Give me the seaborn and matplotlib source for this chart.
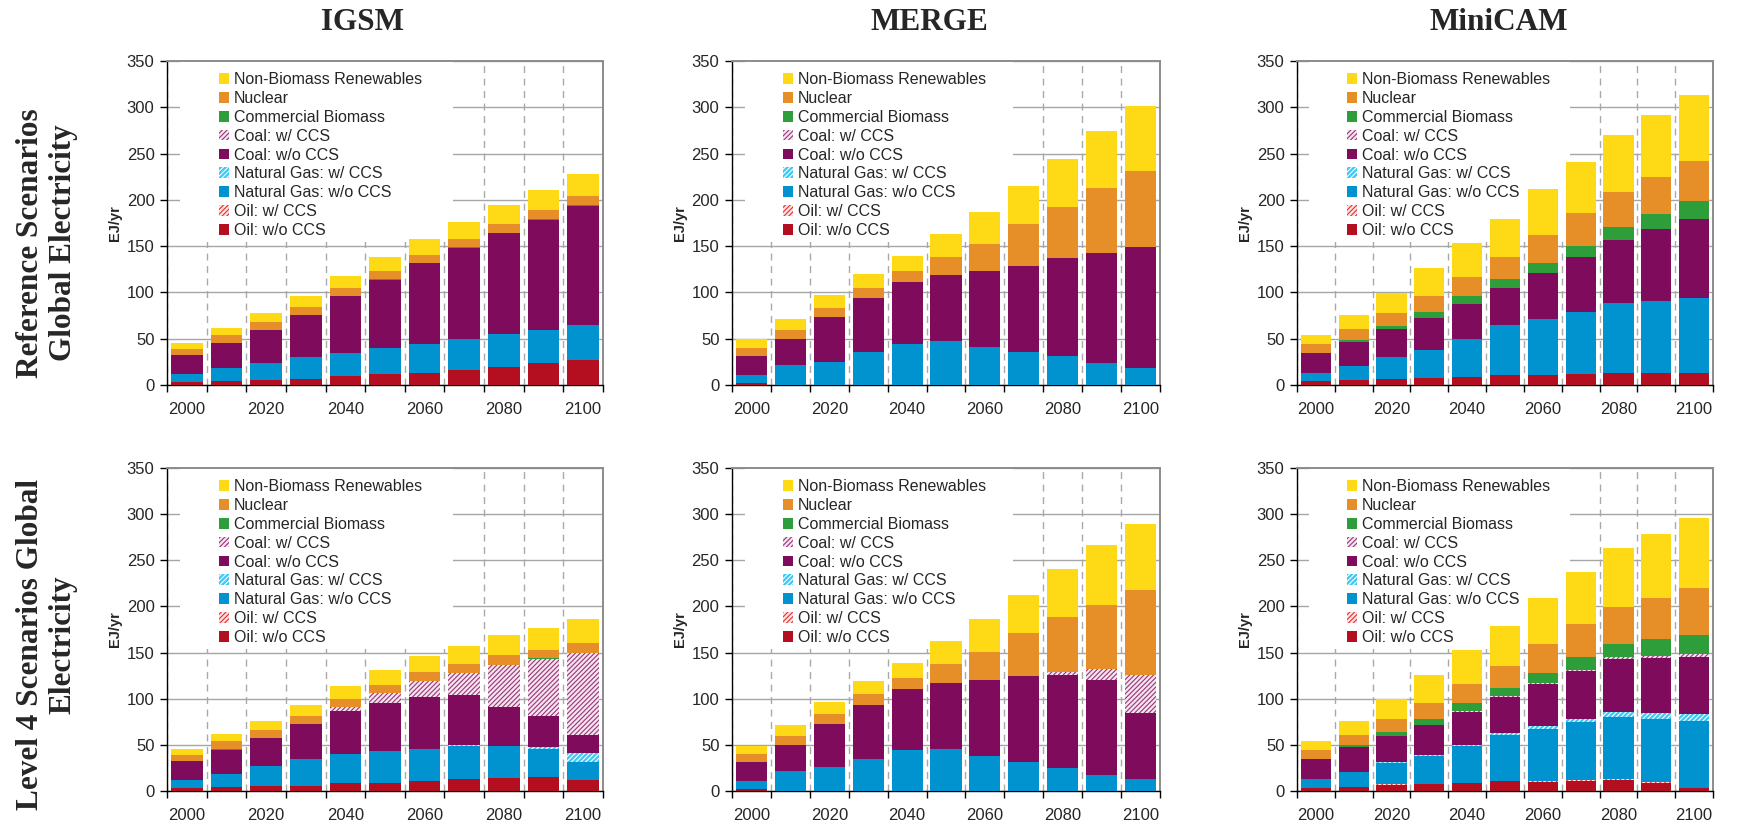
import seaborn as sns
import matplotlib.pyplot as plt
import pandas as pd
import numpy as np
from matplotlib.patches import Patch, Rectangle

years = [2000, 2010, 2020, 2030, 2040, 2050, 2060, 2070, 2080, 2090, 2100]
year_labels = ["2000", "2020", "2040", "2060", "2080", "2100"]

# stacking order, bottom to top
sources = ["Oil: w/o CCS", "Oil: w/ CCS", "Natural Gas: w/o CCS", "Natural Gas: w/ CCS",
           "Coal: w/o CCS", "Coal: w/ CCS", "Commercial Biomass", "Nuclear",
           "Non-Biomass Renewables"]

models = ["IGSM", "MERGE", "MiniCAM"]
row_titles = ["Reference Scenarios\nGlobal Electricity",
              "Level 4 Scenarios Global\nElectricity"]

zeros = [0] * 11

igsm_ref = {
    "Oil: w/o CCS": [3.6, 4.3, 5.8, 6.8, 10, 12.2, 13.3, 16.5, 19.4, 23.7, 27],
    "Oil: w/ CCS": zeros,
    "Natural Gas: w/o CCS": [8.6, 14, 18.3, 23.8, 24.5, 28.1, 31.3, 33.1, 36, 35.7, 37.7],
    "Natural Gas: w/ CCS": zeros,
    "Coal: w/o CCS": [20.5, 26.7, 35.3, 45.3, 61.5, 73.4, 87.1, 98.2, 108.6, 118.6, 128.8],
    "Coal: w/ CCS": zeros,
    "Commercial Biomass": [0, 0.7, 0, 0, 0, 1, 0, 1.2, 0, 1, 1.1],
    "Nuclear": [6.1, 8.3, 8.6, 8.3, 8.7, 8.7, 8.6, 8.6, 9.7, 9.8, 9.4],
    "Non-Biomass Renewables": [6.5, 7.9, 9.7, 11.8, 12.9, 14.7, 17.3, 18.3, 20.5, 21.6, 23.7],
}

merge_ref = {
    "Oil: w/o CCS": [2.5, 0, 0, 0, 0, 0, 0, 0, 0, 0, 0],
    "Oil: w/ CCS": zeros,
    "Natural Gas: w/o CCS": [8.3, 21.7, 25.3, 35.8, 44.4, 47.7, 41.2, 35.8, 31.4, 23.8, 18.4],
    "Natural Gas: w/ CCS": zeros,
    "Coal: w/o CCS": [20.6, 28.1, 48.4, 58.5, 67.2, 71.5, 82.3, 93.1, 106.2, 119.2, 131.1],
    "Coal: w/ CCS": zeros,
    "Commercial Biomass": zeros,
    "Nuclear": [8.7, 9.8, 9.7, 10.8, 11.9, 19.5, 29.3, 45.5, 55.2, 69.3, 81.3],
    "Non-Biomass Renewables": [9.4, 11.9, 14.1, 15.2, 16.3, 24.9, 34.6, 40.1, 51, 61.8, 70.4],
}

minicam_ref = {
    "Oil: w/o CCS": [4.7, 5.8, 6.9, 7.9, 9, 11.2, 11.2, 12.3, 13.4, 13.4, 13.4],
    "Oil: w/ CCS": zeros,
    "Natural Gas: w/o CCS": [8.7, 15.1, 23.8, 30.4, 41.2, 53.1, 59.6, 66.1, 74.7, 76.9, 80.1],
    "Natural Gas: w/ CCS": zeros,
    "Coal: w/o CCS": [21.6, 26, 29.3, 34.6, 36.8, 40.1, 49.8, 59.6, 68.3, 78, 85.6],
    "Coal: w/ CCS": zeros,
    "Commercial Biomass": [0, 2.2, 3.2, 5.5, 8.7, 9.7, 10.9, 11.8, 14, 16.2, 19.5],
    "Nuclear": [9.8, 10.9, 14.1, 17.3, 20.6, 23.9, 30.3, 35.8, 38, 40.1, 43.3],
    "Non-Biomass Renewables": [9.7, 15.1, 21.7, 30.3, 36.8, 41.8, 49.8, 54.9, 61.7, 66.8, 71.6],
}

igsm_l4 = {
    "Oil: w/o CCS": [3.6, 4.7, 5.8, 5.8, 9, 9, 11.2, 13.4, 14.4, 15.5, 12.3],
    "Oil: w/ CCS": zeros,
    "Natural Gas: w/o CCS": [8.7, 14.1, 21.6, 28.8, 31.4, 34.7, 34.6, 35.6, 34.2, 30.3, 19.1],
    "Natural Gas: w/ CCS": [0, 0, 0, 0, 0, 0, 0, 0.8, 0.5, 1.8, 9.7],
    "Coal: w/o CCS": [20.2, 25.9, 30.3, 38.3, 46.6, 51.9, 56.3, 54.1, 42.2, 34, 19.9],
    "Coal: w/ CCS": [0, 0, 0, 0, 4.3, 10.9, 17.4, 23.9, 45.1, 61.3, 88.4],
    "Commercial Biomass": [0, 1.1, 0, 0, 0, 0, 0, 0, 0, 0.7, 0],
    "Nuclear": [6.5, 8.3, 8.7, 8.7, 8.7, 8.6, 9.7, 10.1, 10.8, 9.1, 10.8],
    "Non-Biomass Renewables": [6.5, 8, 9.7, 11.5, 13.7, 15.9, 17, 19.1, 21.7, 23.8, 26],
}

merge_l4 = {
    "Oil: w/o CCS": [2.5, 0, 0, 0, 0, 0, 0, 0, 0, 0, 0],
    "Oil: w/ CCS": zeros,
    "Natural Gas: w/o CCS": [8.7, 21.7, 26, 34.6, 44.4, 45.5, 37.9, 31.4, 24.9, 17.3, 13],
    "Natural Gas: w/ CCS": zeros,
    "Coal: w/o CCS": [20.2, 28.5, 46.9, 58.5, 66.4, 71.4, 82.3, 93.1, 100.7, 102.9, 71.4],
    "Coal: w/ CCS": [0, 0, 0, 0, 0, 0, 0, 0, 3.2, 11.9, 41.2],
    "Commercial Biomass": zeros,
    "Nuclear": [9, 9.7, 10.8, 12.3, 11.9, 20.6, 30.3, 46.6, 59.6, 69.3, 92],
    "Non-Biomass Renewables": [8.7, 11.6, 12.7, 13.7, 15.9, 24.9, 35.7, 41.1, 51.9, 64.9, 71.5],
}

minicam_l4 = {
    "Oil: w/o CCS": [3.6, 4.7, 6.9, 7.9, 9, 11.2, 10.1, 11.2, 12.3, 9, 3.6],
    "Oil: w/ CCS": [0, 0, 0.8, 0, 0, 0, 0.8, 0.5, 0.8, 0.8, 0],
    "Natural Gas: w/o CCS": [9.8, 15.5, 23.1, 30.4, 39.7, 49.8, 56.3, 62.8, 67.1, 68.2, 72.5],
    "Natural Gas: w/ CCS": [0, 0.6, 0.7, 1, 1.5, 2.2, 3.2, 3.2, 5.4, 6.5, 7.6],
    "Coal: w/o CCS": [21.6, 26.7, 28.1, 32.5, 35.7, 38.9, 45.5, 52, 57.4, 59.5, 61.7],
    "Coal: w/ CCS": [0, 0, 0, 0, 0.4, 0.8, 0.6, 1.1, 1.8, 2.2, 3.3],
    "Commercial Biomass": [0, 2.2, 4.4, 6.5, 8.6, 9, 11.9, 14, 14.4, 18.4, 20.6],
    "Nuclear": [9.7, 10.8, 14, 17.3, 20.6, 23.8, 31.4, 35.8, 40.1, 44.4, 50.8],
    "Non-Biomass Renewables": [9.8, 15.2, 21.7, 30.4, 36.8, 43.3, 49.8, 56.3, 63.8, 69.3, 75.8],
}

panels = [[igsm_ref, merge_ref, minicam_ref], [igsm_l4, merge_l4, minicam_l4]]

HATCH = "///////"
# facecolor, hatch/edge colour, hatch
estilos = {
    "Oil: w/o CCS": ("#b30f20", "none", None),
    "Oil: w/ CCS": ("#fbe3e3", "#ee2a2a", HATCH),
    "Natural Gas: w/o CCS": ("#0093d0", "none", None),
    "Natural Gas: w/ CCS": ("#3cc8f2", "white", HATCH),
    "Coal: w/o CCS": ("#7f0b5c", "none", None),
    "Coal: w/ CCS": ("#f4e4ee", "#9a3478", HATCH),
    "Commercial Biomass": ("#2e9e3b", "none", None),
    "Nuclear": ("#e68e27", "none", None),
    "Non-Biomass Renewables": ("#fdd916", "none", None),
}

sns.set_theme(style="white")
plt.rcParams['font.family'] = ['Liberation Sans', 'DejaVu Sans']
plt.rcParams['hatch.linewidth'] = 0.8

fig = plt.figure(figsize=(17.54, 8.25), dpi=100)

lefts = [167, 732, 1297]
rights = [603, 1160, 1713]
tops = [61, 468]
bottoms = [385, 791]
W, H = 1754, 825

def draw_panel(ax, data):
    df = pd.DataFrame(data, index=years)[sources]
    cum = df.cumsum(axis=1)
    # draw cumulative totals from the top layer down so lower layers cover the rest
    for src in reversed(sources):
        face, edge, hatch = estilos[src]
        plot_df = pd.DataFrame({"year": [str(y) for y in years], "valor": cum[src].values})
        kws = dict(edgecolor=edge, linewidth=0)
        if hatch:
            kws["hatch"] = hatch
        sns.barplot(data=plot_df, x="year", y="valor", color=face, saturation=1,
                    errorbar=None, width=0.8, ax=ax, zorder=3, **kws)

    ax.set_xlim(-0.5, 10.5)
    ax.set_ylim(0, 350)
    ax.set_yticks(np.arange(0, 351, 50))
    ax.set_xticks(np.arange(-0.5, 11, 1))
    ax.set_xticklabels([])
    ax.set_xticks(np.arange(0, 11, 2), minor=True)
    ax.set_xticklabels(year_labels, minor=True, fontsize=12)
    ax.tick_params(axis="x", which="major", length=5, width=1, color="black", direction="out", bottom=True)
    ax.tick_params(axis="x", which="minor", length=0, pad=12)
    ax.tick_params(axis="y", length=5, width=1, color="black", direction="out", left=True, labelsize=12, pad=4)
    ax.set_xlabel("")
    ax.set_ylabel("EJ/yr", fontsize=10.5, fontweight="bold", labelpad=3)

    ax.set_axisbelow(True)
    ax.yaxis.grid(True, color="#a6a6a6", linewidth=1, linestyle="-")
    ax.xaxis.grid(True, which="major", color="#a9a9a9", linewidth=1, linestyle=(0, (5, 4)))

    for s in ["left", "bottom"]:
        ax.spines[s].set_color("black")
        ax.spines[s].set_linewidth(1)
    for s in ["top", "right"]:
        ax.spines[s].set_color("#8c8c8c")
        ax.spines[s].set_linewidth(1.4)

    # white box behind the legend that hides the grid
    ax.add_patch(Rectangle((0.03, 0.44), 0.626, 0.56, transform=ax.transAxes,
                           facecolor="white", edgecolor="none", zorder=2))

    handles = []
    for src in reversed(sources):
        face, edge, hatch = estilos[src]
        handles.append(Patch(facecolor=face, edgecolor=edge, hatch=hatch, linewidth=0, label=src))
    ax.legend(handles=handles, loc="upper left", bbox_to_anchor=(0.1, 0.99),
              frameon=False, fontsize=11.5, borderpad=0, handlelength=0.65,
              handleheight=0.65, handletextpad=0.3, labelspacing=0.24)

for r in range(2):
    for c in range(3):
        pos = [lefts[c] / W, 1 - bottoms[r] / H, (rights[c] - lefts[c]) / W, (bottoms[r] - tops[r]) / H]
        ax = fig.add_axes(pos)
        draw_panel(ax, panels[r][c])

title_x = [363, 929, 1499]
for c, m in enumerate(models):
    fig.text(title_x[c] / W, 1 - 22 / H, m, ha="center", va="center", fontsize=22.5,
             fontweight="bold", family=["Liberation Serif", "DejaVu Serif"])

row_y = [243, 645]
for r, t in enumerate(row_titles):
    fig.text(47 / W, 1 - row_y[r] / H, t, ha="center", va="center", rotation=90,
             multialignment="center", fontsize=22.5, fontweight="bold", linespacing=1.15,
             family=["Liberation Serif", "DejaVu Serif"])

fig.savefig("out.png", dpi=100)
